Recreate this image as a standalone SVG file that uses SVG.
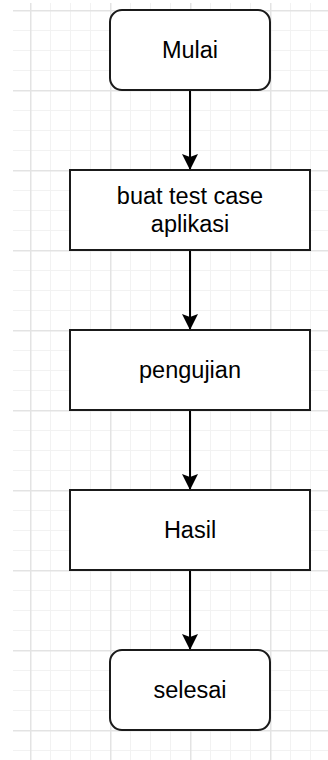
<svg xmlns="http://www.w3.org/2000/svg" width="328" height="760" viewBox="0 0 328 760">
  <style>
    .box { fill: #ffffff; stroke: #1a1a1a; stroke-width: 2; }
    .lbl { font-family: "Liberation Sans", Arial, sans-serif; font-size: 23.5px; fill: #000000; text-anchor: middle; }
    .edge { stroke: #000000; stroke-width: 2; fill: none; }
  </style>
  <defs>
    <pattern id="minor" patternUnits="userSpaceOnUse" x="30" y="10" width="20" height="20">
      <rect x="0" y="0" width="20" height="1" fill="#f2f2f2"/>
      <rect x="0" y="0" width="1" height="20" fill="#f2f2f2"/>
    </pattern>
    <pattern id="major" patternUnits="userSpaceOnUse" x="30" y="10" width="80" height="80">
      <rect x="0" y="0" width="80" height="1.5" fill="#e3e3e3"/>
      <rect x="0" y="0" width="1.5" height="80" fill="#e3e3e3"/>
    </pattern>
    <marker id="arrow" markerUnits="userSpaceOnUse" viewBox="0 0 16 16" refX="16" refY="8" markerWidth="16" markerHeight="16" orient="auto">
      <path d="M0 0 L16 8 L0 16 L3 8 Z" fill="#000000"/>
    </marker>
  </defs>
  <rect x="0" y="0" width="328" height="760" fill="#ffffff"/>
  <rect x="13" y="3" width="315" height="757" fill="url(#minor)"/>
  <rect x="13" y="3" width="315" height="757" fill="url(#major)"/>

  <g id="connectors">
    <line class="edge" x1="190" y1="90" x2="190" y2="170" marker-end="url(#arrow)"/>
    <line class="edge" x1="190" y1="250" x2="190" y2="330" marker-end="url(#arrow)"/>
    <line class="edge" x1="190" y1="410" x2="190" y2="490" marker-end="url(#arrow)"/>
    <line class="edge" x1="190" y1="570" x2="190" y2="650" marker-end="url(#arrow)"/>
  </g>

  <g id="mulai">
    <rect class="box" x="110" y="10" width="160" height="80" rx="12" ry="12"/>
    <text class="lbl" x="190" y="58">Mulai</text>
  </g>
  <g id="buat-test-case">
    <rect class="box" x="70" y="170" width="240" height="80"/>
    <text class="lbl" x="190" y="204">buat test case</text>
    <text class="lbl" x="190" y="231.5">aplikasi</text>
  </g>
  <g id="pengujian">
    <rect class="box" x="70" y="330" width="240" height="80"/>
    <text class="lbl" x="190" y="378">pengujian</text>
  </g>
  <g id="hasil">
    <rect class="box" x="70" y="490" width="240" height="80"/>
    <text class="lbl" x="190" y="538">Hasil</text>
  </g>
  <g id="selesai">
    <rect class="box" x="110" y="650" width="160" height="80" rx="12" ry="12"/>
    <text class="lbl" x="190" y="698">selesai</text>
  </g>
</svg>
